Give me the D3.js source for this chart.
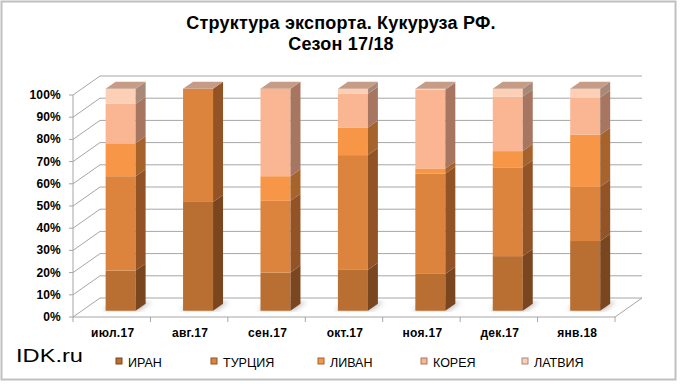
<!DOCTYPE html>
<html><head><meta charset="utf-8">
<script src="https://cdn.jsdelivr.net/npm/d3@7/dist/d3.min.js"></script>
<style>body{margin:0;background:#fff}svg{display:block;font-family:"Liberation Sans",Arial,sans-serif}</style>
</head><body><svg id="c" width="680" height="384"></svg>
<script>
const categories = ["июл.17","авг.17","сен.17","окт.17","ноя.17","дек.17","янв.18"];
const seriesNames = ["ИРАН","ТУРЦИЯ","ЛИВАН","КОРЕЯ","ЛАТВИЯ"];
const iran    = [18.1, 49.0, 17.2, 18.4, 16.6, 24.6, 31.4];
const turkey  = [42.5, 51.0, 32.3, 51.7, 45.2, 40.0, 24.4];
const lebanon = [14.8,  0.0, 11.1, 12.4,  2.3,  7.3, 23.5];
const korea   = [17.8,  0.0, 39.4, 15.2, 35.4, 24.6, 16.7];
const latvia  = [ 6.8,  0.0,  0.0,  2.3,  0.5,  3.5,  4.0];
const yTicks = [0,10,20,30,40,50,60,70,80,90,100];

const frontColors = ["#B96E32","#DC843D","#F79646","#FAB592","#FCD0B6"];
const sideColors  = ["#7A461F","#925327","#A6632C","#A67660","#A88878"];
const topColor = "#C69C86";

const svg = d3.select("#c");
const defs = svg.append("defs");
defs.append("filter").attr("id","blur").append("feGaussianBlur").attr("stdDeviation",2.5);

// frame
svg.append("rect").attr("x",1.5).attr("y",1.5).attr("width",674).attr("height",378)
  .attr("fill","#fff").attr("stroke","#C0C0C0").attr("stroke-width",2);

// title
svg.append("text").attr("x",341).attr("y",29).attr("text-anchor","middle")
  .attr("font-size",18).attr("font-weight","bold").attr("letter-spacing",0.2).text("Структура экспорта. Кукуруза РФ.");
svg.append("text").attr("x",341).attr("y",50).attr("text-anchor","middle")
  .attr("font-size",18).attr("font-weight","bold").attr("letter-spacing",0.2).text("Сезон 17/18");

const x = d3.scaleBand().domain(categories).range([73,615]);
const y = d3.scaleLinear().domain([0,100]).range([317,95]);
const DX = 27, DY = -19;
const p = (px,py,z)=>[px+z*DX, py+z*DY];

const grid = svg.append("g").attr("stroke","#A6A6A6").attr("stroke-width",1).attr("fill","none");
const x0 = x.range()[0], x1 = x.range()[1];
yTicks.forEach(t=>{
  const yy = y(t);
  grid.append("path").attr("d",`M${x0},${yy}L${x0+DX},${yy+DY}` + (t>0?`L${x1+DX},${yy+DY}`:""));
});
// floor edges
grid.append("path").attr("d",`M${x0},${y(0)}L${x1},${y(0)}L${x1+DX},${y(0)+DY}L${x0+DX},${y(0)+DY}`);
// vertical axis
grid.append("path").attr("d",`M${x0},${y(0)}L${x0},${y(100)}`);
// y ticks
yTicks.forEach(t=>{
  grid.append("path").attr("d",`M${x0-4},${y(t)}L${x0},${y(t)}`);
  svg.append("text").attr("x",61).attr("y",y(t)+4).attr("text-anchor","end")
    .attr("font-size",12).attr("font-weight","bold").attr("letter-spacing",0.2).attr("fill","#000").text(t+"%");
});
// x ticks
[...categories.map(c=>x(c)), x1].forEach(xx=>{
  grid.append("path").attr("d",`M${xx},${y(0)}L${xx},${y(0)+5}`);
});
categories.forEach(c=>{
  svg.append("text").attr("x",x(c)+x.bandwidth()/2+1).attr("y",y(0)+20).attr("text-anchor","middle")
    .attr("font-size",12).attr("font-weight","bold").attr("letter-spacing",0.3).text(c);
});

const data = categories.map((c,i)=>({cat:c, "ИРАН":iran[i], "ТУРЦИЯ":turkey[i], "ЛИВАН":lebanon[i], "КОРЕЯ":korea[i], "ЛАТВИЯ":latvia[i]}));
const stack = d3.stack().keys(seriesNames)(data);

const BW = 30, ZF = 0.33, BD = 0.37;
const bars = svg.append("g");
// shadows
categories.forEach(c=>{
  const [fx,fy] = p(x(c)+x.bandwidth()/2-BW/2, y(0), ZF);
  bars.append("polygon").attr("filter","url(#blur)").attr("fill","#7f7f7f").attr("opacity",0.45)
    .attr("points",[[fx-3,fy],[fx+BW+4,fy],[fx+BW+16,fy-9],[fx+8,fy-9]].join(" "));
});
categories.forEach((c,i)=>{
  const xl = x(c)+x.bandwidth()/2-BW/2;
  let topVal = 0;
  stack.forEach((s,k)=>{
    const d = s[i];
    if (d[1]-d[0] <= 0) return;
    const [ax,ay1] = p(xl, y(d[1]), ZF);
    const ay0 = p(xl, y(d[0]), ZF)[1];
    const dx = BD*DX, dy = BD*DY;
    bars.append("rect").attr("x",ax).attr("y",ay1).attr("width",BW).attr("height",ay0-ay1).attr("fill",frontColors[k]);
    bars.append("polygon").attr("fill",sideColors[k])
      .attr("points",[[ax+BW,ay1],[ax+BW+dx,ay1+dy],[ax+BW+dx,ay0+dy],[ax+BW,ay0]].join(" "));
    if (d[1] >= topVal) topVal = d[1];
  });
  const [ax,ay] = p(xl, y(topVal), ZF);
  const dx = BD*DX, dy = BD*DY;
  bars.append("polygon").attr("fill",topColor)
    .attr("points",[[ax,ay],[ax+BW,ay],[ax+BW+dx,ay+dy],[ax+dx,ay+dy]].join(" "));
});

// watermark
svg.append("text").attr("x",16).attr("y",362).attr("font-size",19).attr("textLength",67)
  .attr("lengthAdjust","spacingAndGlyphs").attr("fill","#000").text("IDK.ru");

// legend
const legX = [116, 211, 318, 421, 522];
seriesNames.forEach((n,k)=>{
  const g = svg.append("g").attr("transform",`translate(${legX[k]},358)`);
  g.append("rect").attr("width",6).attr("height",6).attr("fill",frontColors[k]).attr("stroke",sideColors[k]).attr("stroke-width",1);
  g.append("text").attr("x",12).attr("y",9).attr("font-size",12.5).text(n);
});
</script></body></html>
